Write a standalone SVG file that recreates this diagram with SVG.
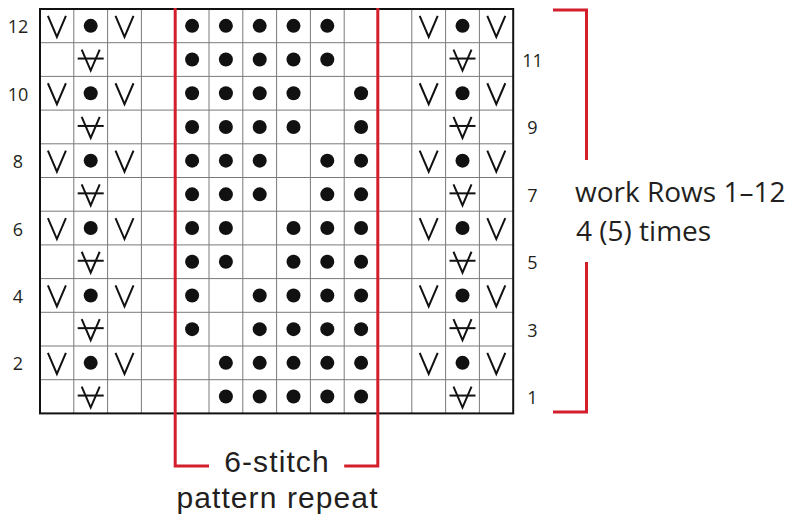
<svg xmlns="http://www.w3.org/2000/svg" width="800" height="527" viewBox="0 0 800 527">
<style>
.grid{fill:none;stroke:#7a7a7a;stroke-width:1}
.border{fill:none;stroke:#111;stroke-width:2}
.sym{fill:none;stroke:#111;stroke-width:2;stroke-linejoin:miter}
.red{fill:none;stroke:#d21f2b;stroke-width:3}
.num{font-family:"Open Sans","Liberation Sans",sans-serif;font-size:18px;fill:#231f20;text-anchor:middle}
.lbl{font-family:"Liberation Sans",Arial,sans-serif;font-size:30px;letter-spacing:1.1px;fill:#231f20}
.lbl2{font-family:"Open Sans","Liberation Sans",sans-serif;font-size:28px;fill:#231f20}
</style>
<defs>
<path id="v" class="sym" d="M-9,-10 L0,11 L9,-10"/>
<g id="va"><path class="sym" d="M-9,-10 L0,11 L9,-10"/><path class="sym" d="M-13,-1 H13"/></g>
<circle id="d" r="7" fill="#111"/>
</defs>
<rect x="0" y="0" width="800" height="527" fill="#fff"/>
<g id="grid">
<path class="grid" d="M73.8,9V413.4M107.6,9V413.4M141.4,9V413.4M175.2,9V413.4M209,9V413.4M242.8,9V413.4M276.6,9V413.4M310.4,9V413.4M344.2,9V413.4M378,9V413.4M411.8,9V413.4M445.6,9V413.4M479.4,9V413.4M40,42.7H513.2M40,76.4H513.2M40,110.1H513.2M40,143.8H513.2M40,177.5H513.2M40,211.2H513.2M40,244.9H513.2M40,278.6H513.2M40,312.3H513.2M40,346H513.2M40,379.7H513.2"/>
<rect class="border" x="40" y="9" width="473.2" height="404.4"/>
</g>
<g id="row12">
<use href="#v" x="56.9" y="25.85"/><use href="#d" x="90.7" y="25.85"/><use href="#v" x="124.5" y="25.85"/>
<use href="#d" x="192.1" y="25.85"/><use href="#d" x="225.9" y="25.85"/><use href="#d" x="259.7" y="25.85"/><use href="#d" x="293.5" y="25.85"/><use href="#d" x="327.3" y="25.85"/>
<use href="#v" x="428.7" y="25.85"/><use href="#d" x="462.5" y="25.85"/><use href="#v" x="496.3" y="25.85"/>
</g>
<g id="row11">
<use href="#va" x="90.7" y="59.55"/>
<use href="#d" x="192.1" y="59.55"/><use href="#d" x="225.9" y="59.55"/><use href="#d" x="259.7" y="59.55"/><use href="#d" x="293.5" y="59.55"/><use href="#d" x="327.3" y="59.55"/>
<use href="#va" x="462.5" y="59.55"/>
</g>
<g id="row10">
<use href="#v" x="56.9" y="93.25"/><use href="#d" x="90.7" y="93.25"/><use href="#v" x="124.5" y="93.25"/>
<use href="#d" x="192.1" y="93.25"/><use href="#d" x="225.9" y="93.25"/><use href="#d" x="259.7" y="93.25"/><use href="#d" x="293.5" y="93.25"/><use href="#d" x="361.1" y="93.25"/>
<use href="#v" x="428.7" y="93.25"/><use href="#d" x="462.5" y="93.25"/><use href="#v" x="496.3" y="93.25"/>
</g>
<g id="row9">
<use href="#va" x="90.7" y="126.95"/>
<use href="#d" x="192.1" y="126.95"/><use href="#d" x="225.9" y="126.95"/><use href="#d" x="259.7" y="126.95"/><use href="#d" x="293.5" y="126.95"/><use href="#d" x="361.1" y="126.95"/>
<use href="#va" x="462.5" y="126.95"/>
</g>
<g id="row8">
<use href="#v" x="56.9" y="160.65"/><use href="#d" x="90.7" y="160.65"/><use href="#v" x="124.5" y="160.65"/>
<use href="#d" x="192.1" y="160.65"/><use href="#d" x="225.9" y="160.65"/><use href="#d" x="259.7" y="160.65"/><use href="#d" x="327.3" y="160.65"/><use href="#d" x="361.1" y="160.65"/>
<use href="#v" x="428.7" y="160.65"/><use href="#d" x="462.5" y="160.65"/><use href="#v" x="496.3" y="160.65"/>
</g>
<g id="row7">
<use href="#va" x="90.7" y="194.35"/>
<use href="#d" x="192.1" y="194.35"/><use href="#d" x="225.9" y="194.35"/><use href="#d" x="259.7" y="194.35"/><use href="#d" x="327.3" y="194.35"/><use href="#d" x="361.1" y="194.35"/>
<use href="#va" x="462.5" y="194.35"/>
</g>
<g id="row6">
<use href="#v" x="56.9" y="228.05"/><use href="#d" x="90.7" y="228.05"/><use href="#v" x="124.5" y="228.05"/>
<use href="#d" x="192.1" y="228.05"/><use href="#d" x="225.9" y="228.05"/><use href="#d" x="293.5" y="228.05"/><use href="#d" x="327.3" y="228.05"/><use href="#d" x="361.1" y="228.05"/>
<use href="#v" x="428.7" y="228.05"/><use href="#d" x="462.5" y="228.05"/><use href="#v" x="496.3" y="228.05"/>
</g>
<g id="row5">
<use href="#va" x="90.7" y="261.75"/>
<use href="#d" x="192.1" y="261.75"/><use href="#d" x="225.9" y="261.75"/><use href="#d" x="293.5" y="261.75"/><use href="#d" x="327.3" y="261.75"/><use href="#d" x="361.1" y="261.75"/>
<use href="#va" x="462.5" y="261.75"/>
</g>
<g id="row4">
<use href="#v" x="56.9" y="295.45"/><use href="#d" x="90.7" y="295.45"/><use href="#v" x="124.5" y="295.45"/>
<use href="#d" x="192.1" y="295.45"/><use href="#d" x="259.7" y="295.45"/><use href="#d" x="293.5" y="295.45"/><use href="#d" x="327.3" y="295.45"/><use href="#d" x="361.1" y="295.45"/>
<use href="#v" x="428.7" y="295.45"/><use href="#d" x="462.5" y="295.45"/><use href="#v" x="496.3" y="295.45"/>
</g>
<g id="row3">
<use href="#va" x="90.7" y="329.15"/>
<use href="#d" x="192.1" y="329.15"/><use href="#d" x="259.7" y="329.15"/><use href="#d" x="293.5" y="329.15"/><use href="#d" x="327.3" y="329.15"/><use href="#d" x="361.1" y="329.15"/>
<use href="#va" x="462.5" y="329.15"/>
</g>
<g id="row2">
<use href="#v" x="56.9" y="362.85"/><use href="#d" x="90.7" y="362.85"/><use href="#v" x="124.5" y="362.85"/>
<use href="#d" x="225.9" y="362.85"/><use href="#d" x="259.7" y="362.85"/><use href="#d" x="293.5" y="362.85"/><use href="#d" x="327.3" y="362.85"/><use href="#d" x="361.1" y="362.85"/>
<use href="#v" x="428.7" y="362.85"/><use href="#d" x="462.5" y="362.85"/><use href="#v" x="496.3" y="362.85"/>
</g>
<g id="row1">
<use href="#va" x="90.7" y="396.55"/>
<use href="#d" x="225.9" y="396.55"/><use href="#d" x="259.7" y="396.55"/><use href="#d" x="293.5" y="396.55"/><use href="#d" x="327.3" y="396.55"/><use href="#d" x="361.1" y="396.55"/>
<use href="#va" x="462.5" y="396.55"/>
</g>
<g id="row-numbers">
<text class="num" x="18" y="33.4">12</text>
<text class="num" x="18" y="100.8">10</text>
<text class="num" x="18" y="168.2">8</text>
<text class="num" x="18" y="235.6">6</text>
<text class="num" x="18" y="303">4</text>
<text class="num" x="18" y="370.4">2</text>
<text class="num" x="532.5" y="67">11</text>
<text class="num" x="532.5" y="134.4">9</text>
<text class="num" x="532.5" y="201.8">7</text>
<text class="num" x="532.5" y="269.2">5</text>
<text class="num" x="532.5" y="336.6">3</text>
<text class="num" x="532.5" y="404">1</text>
</g>
<g id="connectors">
<path class="red" d="M209,466H175.2V8M344.2,466H377.8V8"/>
<path class="red" d="M553,10H586.5V160M586.5,262V412H553"/>
</g>
<g id="repeat-label">
<text class="lbl" x="277" y="471.5" text-anchor="middle">6-stitch</text>
<text class="lbl" x="277.5" y="508" text-anchor="middle">pattern repeat</text>
</g>
<g id="rows-label">
<text class="lbl2" x="575" y="201.5">work Rows 1–12</text>
<text class="lbl2" x="576" y="240.5">4 (5) times</text>
</g>
</svg>
